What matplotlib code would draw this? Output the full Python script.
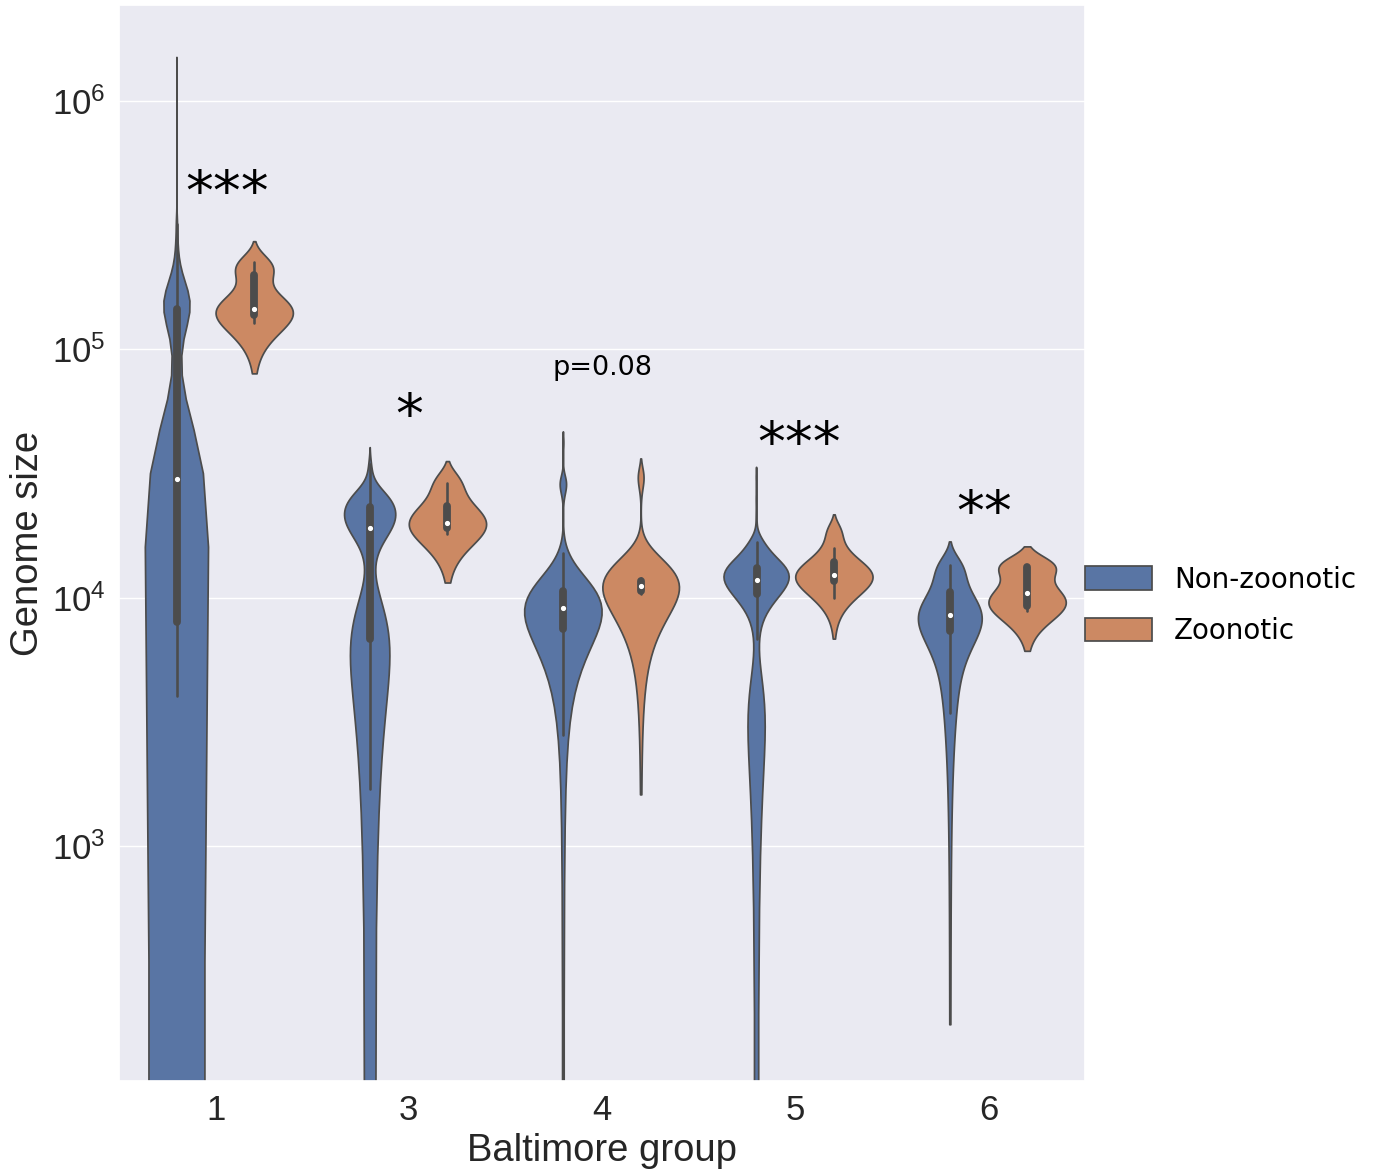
import numpy as np
import pandas as pd
import matplotlib
matplotlib.use("Agg")
import matplotlib.pyplot as plt
import seaborn as sns

groups = ["1", "3", "4", "5", "6"]
hue_order = ["Non-zoonotic", "Zoonotic"]

# Non-zoonotic viruses: genome size (bp) and how many viruses have it
nz1_sizes = [4000, 4800, 5500, 6200, 7000,
             8000, 10000, 12500, 15000, 19000, 24000, 28000,
             30000, 38000, 45000, 55000, 68000, 85000, 100000, 115000, 125000, 133000, 140000,
             145000, 152000, 160000, 170000, 182000, 195000, 210000, 235000, 270000, 320000, 1450000]
nz1_counts = [16, 28, 36, 44, 46,
              32, 28, 26, 24, 22, 20, 18,
              26, 26, 20, 10, 6, 4, 5, 12, 18, 20, 23,
              26, 26, 25, 23, 18, 16, 12, 10, 8, 6, 1]

nz3_sizes = [1700, 2200, 2800, 3500, 4200, 5000, 5600, 6100, 6500,
             6900, 7400, 8000, 8800, 9800, 11000, 13000, 15000, 16800, 17600, 18300, 18800,
             19300, 19800, 20300, 20800, 21300, 21800, 22400, 23000,
             23600, 24300, 25000, 26000, 27000, 28500, 30500, 32500, 34500]
nz3_counts = [2, 4, 5, 6, 7, 10, 10, 9, 7,
              7, 7, 6, 5, 3, 2, 1, 2, 6, 7, 7, 7,
              9, 9, 9, 9, 8, 6, 5, 5,
              14, 13, 11, 8, 5, 3, 2, 2, 2]

nz4_sizes = [2800, 3800, 4800, 5600, 6200, 6700, 7100, 7400,
             7600, 8000, 8400, 8800, 9100,
             9400, 9800, 10200, 10600, 11100,
             11600, 12300, 13200, 14500, 15200,
             27500, 28500, 29500, 42000]
nz4_counts = [1, 1, 2, 3, 4, 6, 8, 5,
              6, 7, 7, 7, 7,
              7, 7, 7, 6, 5,
              4, 4, 3, 2, 1,
              2, 3, 2, 1]

nz5_sizes = [1800, 2500, 3000, 3500, 4200,
             6800, 8200, 9200, 9800,
             10300, 10800, 11300, 11800,
             12300, 12800, 13200,
             14000, 15000, 16000, 16800,
             21000, 25000, 30500]
nz5_counts = [4, 6, 8, 6, 4,
              2, 2, 6, 8,
              12, 12, 14, 16,
              16, 16, 16,
              14, 10, 8, 6,
              1, 1, 1]

nz6_sizes = [3440, 5600, 6900, 7200, 7500, 7900, 8300, 8500,
             8800, 9300, 10200, 10800, 12600, 13000, 13600]
nz6_counts = [1] * len(nz6_sizes)

# Zoonotic viruses: one genome size per virus
z1 = [128000, 134000, 137000, 141000, 146000, 152000, 200000, 210000, 225000]
z3 = [18000, 19000, 20000, 23500, 29000]
z4 = [7600, 10300, 10500, 10600, 10700, 10900, 11000, 11100,
      11200, 11300, 11500, 11800, 11900, 12000, 30400]
z5 = [10000, 11000, 11600, 11900, 12200, 12400, 13500, 14000, 15800, 18500]
z6 = [8800, 9000, 9300, 10000, 10800, 13200, 13400, 13400]

nz_tables = {"1": (nz1_sizes, nz1_counts), "3": (nz3_sizes, nz3_counts),
             "4": (nz4_sizes, nz4_counts), "5": (nz5_sizes, nz5_counts),
             "6": (nz6_sizes, nz6_counts)}
z_lists = {"1": z1, "3": z3, "4": z4, "5": z5, "6": z6}

rows = []
for g in groups:
    sizes, counts = nz_tables[g]
    for s in np.repeat(sizes, counts):
        rows.append((g, "Non-zoonotic", s))
    for s in z_lists[g]:
        rows.append((g, "Zoonotic", s))
df = pd.DataFrame(rows, columns=["Baltimore group", "type", "Genome size"])

sns.set_theme(style="darkgrid")
plt.rcParams["font.family"] = ["Liberation Sans", "DejaVu Sans"]

fig = plt.figure(figsize=(13.77, 11.69), dpi=100)
ax = fig.add_axes([0.0864, 0.0753, 0.7016, 0.9204])

# one call per group so the two violins of a group share the area scaling
for g in groups:
    sns.violinplot(data=df[df["Baltimore group"] == g], x="Baltimore group",
                   y="Genome size", hue="type", order=groups, hue_order=hue_order,
                   inner="box", common_norm=True, legend=(g == groups[0]),
                   inner_kws=dict(marker="o", markersize=2.6), ax=ax)
# density is estimated on the linear scale, then shown on a log axis
ax.set_yscale("log")
ax.set_ylim(113, 2.44e6)

ax.tick_params(axis="both", labelsize=25)
ax.set_xlabel("Baltimore group", fontsize=27.5)
ax.set_ylabel("Genome size", fontsize=27.5)

handles, labels = ax.get_legend_handles_labels()
ax.legend(handles[:2], labels[:2], loc="center left", bbox_to_anchor=(1.0, 0.442),
          frameon=False, prop={"family": "DejaVu Sans", "size": 20},
          labelcolor="black", handlelength=2.4, handleheight=0.9,
          labelspacing=0.85, borderaxespad=0, borderpad=0)

# significance labels
star_kw = dict(ha="center", va="center", family="DejaVu Sans", fontsize=40, color="black")
ax.text(0.06, 4.2e5, "***", **star_kw)
ax.text(1.0, 5.3e4, "*", **star_kw)
ax.text(2.0, 8.4e4, "p=0.08", ha="center", va="center", family="DejaVu Sans",
        fontsize=19.5, color="black")
ax.text(3.02, 4.1e4, "***", **star_kw)
ax.text(3.98, 2.15e4, "**", **star_kw)

fig.savefig("out.png", dpi=100)
